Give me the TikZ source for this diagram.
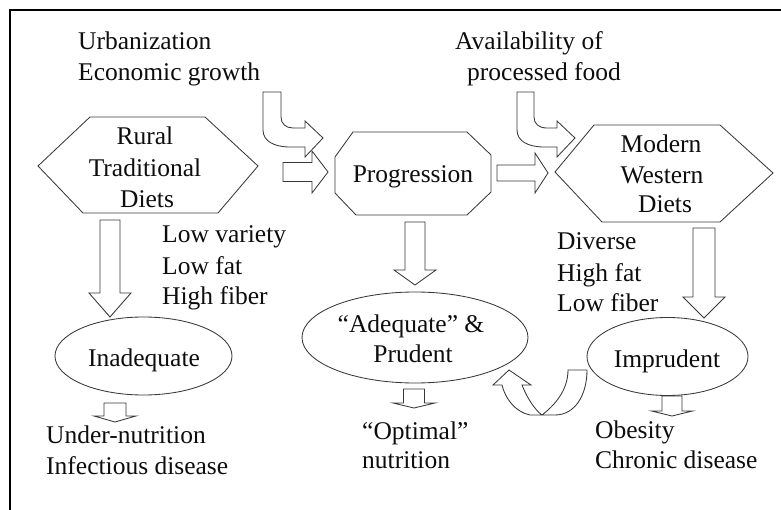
\documentclass[tikz,border=0pt]{standalone}
\usepackage{fontspec}
\setmainfont{Liberation Serif}
\usetikzlibrary{shapes.geometric}
\newcommand\dnarrow[6]{\draw[shp,fill=white] ({#1-#5},#2) -- ({#1+#5},#2) -- ({#1+#5},#3) -- ({#1+#6},#3) -- (#1,#4) -- ({#1-#6},#3) -- ({#1-#5},#3) -- cycle;}
\newcommand\rtarrow[6]{\draw[shp,fill=white] (#1,{#2-#5}) -- (#3,{#2-#5}) -- (#3,{#2-#6}) -- (#4,#2) -- (#3,{#2+#6}) -- (#3,{#2+#5}) -- (#1,{#2+#5}) -- cycle;}
\begin{document}
\begin{tikzpicture}[x=1pt,y=-1pt,
  lbl/.style={font=\fontsize{25.5}{31}\selectfont, text=black!95, inner sep=0pt},
  shp/.style={draw=black!78, line width=0.85pt, line join=miter},
  oval/.style={ellipse, draw=black!78, line width=0.85pt, inner sep=0pt},
  frame/.style={draw=black, line width=1.3pt}]
\useasboundingbox (0,0) rectangle (781,510);
\draw[frame] (10,510) -- (10,10) -- (781,10);

% shapes
\draw[shp] (38,166) -- (90,117) -- (205,117) -- (258,166) -- (218,213) -- (83,213) -- cycle;
\draw[shp] (353,132) -- (467,132) -- (491,155) -- (491,192) -- (467,215) -- (356,215) -- (335,193) -- (335,157) -- cycle;
\draw[shp] (555,172) -- (594,125) -- (720,125) -- (773,173) -- (720,222) -- (602,222) -- cycle;

\node[oval, minimum width=177pt, minimum height=78pt] (inad) at (143.5,356) {};
\node[oval, minimum width=226pt, minimum height=91pt] (adeq) at (415,337.5) {};
\node[oval, minimum width=161pt, minimum height=78pt] (impr) at (667.5,356.5) {};

% block arrows
\rtarrow{283}{172}{312}{328}{9.5}{21}
\rtarrow{497}{173}{535}{548}{8}{20}
\dnarrow{110}{220}{293}{317}{10}{21}
\dnarrow{415}{222}{270}{285}{10}{21}
\dnarrow{704}{228}{297}{318}{11}{21}
\dnarrow{115}{403}{416}{422}{11}{21}
\dnarrow{414}{389}{403}{408}{10.5}{21}
\dnarrow{672}{396}{411}{416}{10}{20.5}

\draw[shp,fill=white] (263,92) -- (263,130) .. controls (263,141) and (274,147) .. (290,147) -- (305,147) -- (305,157) -- (323,138) -- (305,121) -- (305,128) -- (293,128) .. controls (286,128) and (281,124) .. (281,117) -- (281,92) -- cycle;
\begin{scope}[xshift=254pt]
\draw[shp,fill=white] (263,92) -- (263,130) .. controls (263,141) and (274,147) .. (290,147) -- (303,147) -- (303,157) -- (321,138) -- (303,121) -- (303,128) -- (293,128) .. controls (285,128) and (280,124) .. (280,117) -- (280,92) -- cycle;
\end{scope}

\draw[shp,fill=white] (587,370) .. controls (587,395) and (575,415) .. (555,415) -- (530,415) .. controls (515,412) and (505,398) .. (502,385) -- (493,385) -- (509,370) -- (531,385) -- (522,385) .. controls (527,398) and (535,410) .. (542,415) .. controls (555,405) and (568,390) .. (568,370) -- cycle;

% texts
\node[lbl, anchor=base west] (urb) at (78,50) {Urbanization};
\node[lbl, anchor=base west] (eco) at (78,81) {Economic growth};
\node[lbl, anchor=base west] (avail) at (455,50) {Availability of};
\node[lbl, anchor=base west] (proc) at (467,81) {processed food};

\node[lbl, anchor=base] (rural) at (145,145) {Rural};
\node[lbl, anchor=base] (trad) at (145,177) {Traditional};
\node[lbl, anchor=base] (diets1) at (147,208) {Diets};

\node[lbl, anchor=base] (prog) at (413,183) {Progression};

\node[lbl, anchor=base] (modern) at (661,153) {Modern};
\node[lbl, anchor=base] (western) at (662,184) {Western};
\node[lbl, anchor=base] (diets2) at (665,213) {Diets};

\node[lbl, anchor=base west] (lv) at (162,243) {Low variety};
\node[lbl, anchor=base west] (lf) at (162,275) {Low fat};
\node[lbl, anchor=base west] (hf) at (162,305) {High fiber};

\node[lbl, anchor=base west] (div) at (557,250) {Diverse};
\node[lbl, anchor=base west] (hfat) at (557,282) {High fat};
\node[lbl, anchor=base west] (lfib) at (557,312) {Low fiber};

\node[lbl, anchor=base] (inadt) at (144,366) {Inadequate};
\node[lbl, anchor=base] (adeqt1) at (411,332) {“Adequate” \&};
\node[lbl, anchor=base] (adeqt2) at (413,362) {Prudent};
\node[lbl, anchor=base] (imprt) at (667,367) {Imprudent};

\node[lbl, anchor=base west] (under) at (46,443) {Under-nutrition};
\node[lbl, anchor=base west] (infect) at (46,474) {Infectious disease};
\node[lbl, anchor=base west] (optim) at (362,439) {“Optimal”};
\node[lbl, anchor=base west] (nutr) at (362,468) {nutrition};
\node[lbl, anchor=base west] (obes) at (595,438) {Obesity};
\node[lbl, anchor=base west] (chron) at (595,468) {Chronic disease};
\end{tikzpicture}
\end{document}
